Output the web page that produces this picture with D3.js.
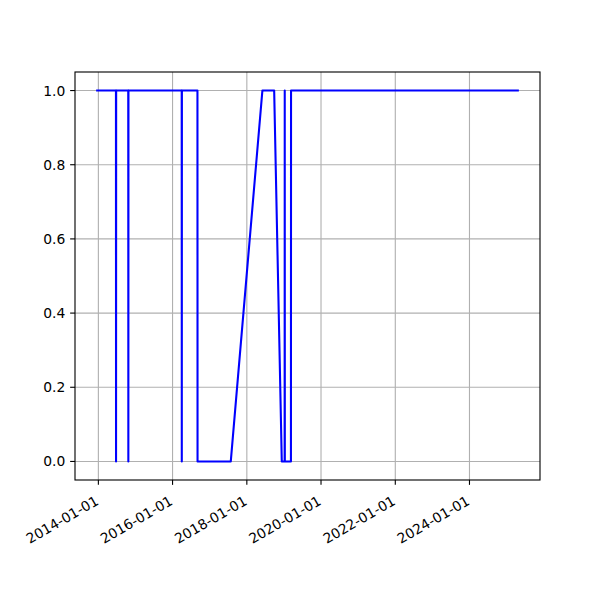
<!DOCTYPE html>
<html>
<head>
<meta charset="utf-8">
<script src="https://cdn.jsdelivr.net/npm/d3@7"></script>
<style>
  html, body { margin: 0; padding: 0; background: #fff; }
  text { font-family: "DejaVu Sans", sans-serif; }
</style>
</head>
<body>
<svg id="chart" width="600" height="600"></svg>
<script>
// Data
const dates = [
  "2013-12-10",
  "2014-06-23", "2014-06-24", "2014-06-25",
  "2014-10-22", "2014-10-23", "2014-10-24",
  "2016-03-31", "2016-04-01", "2016-04-02",
  "2016-09-02", "2016-09-03",
  "2017-07-27",
  "2018-06-03",
  "2018-09-27",
  "2018-12-11",
  "2019-01-08", "2019-01-09", "2019-01-10",
  "2019-03-11", "2019-03-12",
  "2025-05-01"
];
const values = [
  1,
  1, 0, 1,
  1, 0, 1,
  1, 0, 1,
  1, 0,
  0,
  1,
  1,
  0,
  0, 1, 0,
  0, 1,
  1
];
const xTickDates = ["2014-01-01", "2016-01-01", "2018-01-01", "2020-01-01", "2022-01-01", "2024-01-01"];
const yTickValues = [0.0, 0.2, 0.4, 0.6, 0.8, 1.0];

(function () {
const parse = d3.utcParse("%Y-%m-%d");
const data = dates.map((d, i) => ({ date: parse(d), value: values[i] }));

const svg = d3.select("#chart");
const mLeft = 75, mRight = 540, mTop = 72, mBottom = 480;
const ptpx = 100 / 72;
const tickLen = 3.5 * ptpx, pad = 3.5 * ptpx;

const ext = d3.extent(data, d => d.date.getTime());
const span = ext[1] - ext[0];
const x = d3.scaleUtc()
  .domain([new Date(ext[0] - 0.05 * span), new Date(ext[1] + 0.05 * span)])
  .range([mLeft, mRight]);
const y = d3.scaleLinear().domain([-0.05, 1.05]).range([mBottom, mTop]);

// grid
const g = svg.append("g");
xTickDates.forEach(t => {
  const px = x(parse(t));
  g.append("line").attr("x1", px).attr("x2", px).attr("y1", mTop).attr("y2", mBottom)
    .attr("stroke", "#b0b0b0").attr("stroke-width", 0.8 * ptpx);
});
yTickValues.forEach(v => {
  const py = y(v);
  g.append("line").attr("x1", mLeft).attr("x2", mRight).attr("y1", py).attr("y2", py)
    .attr("stroke", "#b0b0b0").attr("stroke-width", 0.8 * ptpx);
});

// line
const line = d3.line().x(d => x(d.date)).y(d => y(d.value));
svg.append("path").datum(data).attr("d", line)
  .attr("fill", "none").attr("stroke", "#0000ff").attr("stroke-width", 1.5 * ptpx)
  .attr("stroke-linejoin", "round").attr("stroke-linecap", "butt");

// frame
svg.append("rect").attr("x", mLeft).attr("y", mTop).attr("width", mRight - mLeft).attr("height", mBottom - mTop)
  .attr("fill", "none").attr("stroke", "#000").attr("stroke-width", 0.8 * ptpx);

// x ticks
const fmt = d3.utcFormat("%Y-%m-%d");
xTickDates.forEach(t => {
  const px = x(parse(t));
  svg.append("line").attr("x1", px).attr("x2", px).attr("y1", mBottom).attr("y2", mBottom + tickLen)
    .attr("stroke", "#000").attr("stroke-width", 0.8 * ptpx);
  svg.append("text")
    .attr("transform", `translate(${px - 4},${mBottom + tickLen + pad + 5}) rotate(-30)`)
    .attr("text-anchor", "end").attr("dominant-baseline", "hanging")
    .attr("font-size", 10 * ptpx).attr("fill", "#000")
    .text(fmt(parse(t)));
});

// y ticks
yTickValues.forEach(v => {
  const py = y(v);
  svg.append("line").attr("x1", mLeft - tickLen).attr("x2", mLeft).attr("y1", py).attr("y2", py)
    .attr("stroke", "#000").attr("stroke-width", 0.8 * ptpx);
  svg.append("text")
    .attr("x", mLeft - tickLen - pad).attr("y", py)
    .attr("text-anchor", "end").attr("dominant-baseline", "central")
    .attr("font-size", 10 * ptpx).attr("fill", "#000")
    .text(d3.format(".1f")(v));
});
})();
</script>
</body>
</html>
